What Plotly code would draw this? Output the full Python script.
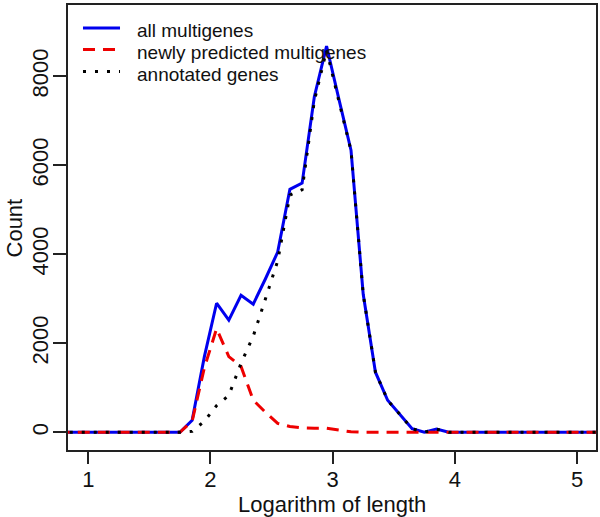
import plotly.graph_objects as go

log_length = [0.75, 0.85, 0.95,
              1.05, 1.15, 1.25, 1.35, 1.45, 1.55, 1.65, 1.75, 1.85, 1.95,
              2.05, 2.15, 2.25, 2.35, 2.45, 2.55, 2.65, 2.75, 2.85, 2.95,
              3.05, 3.15, 3.25, 3.35, 3.45, 3.55, 3.65, 3.75, 3.85, 3.95,
              4.05, 4.15, 4.25, 4.35, 4.45, 4.55, 4.65, 4.75, 4.85, 4.95,
              5.05, 5.15, 5.25]

all_multigenes = [0, 0, 0,
                  0, 0, 0, 0, 0, 0, 0, 0, 270, 1700,
                  2900, 2520, 3080, 2880, 3450, 4050, 5460, 5600, 7540, 8680,
                  7500, 6340, 3100, 1350, 720, 400, 80, 0, 70, 0,
                  0, 0, 0, 0, 0, 0, 0, 0, 0, 0,
                  0, 0, 0]

newly_predicted = [0, 0, 0,
                   0, 0, 0, 0, 0, 0, 0, 0, 250, 1450,
                   2330, 1700, 1480, 720, 450, 200, 130, 100, 90, 90,
                   50, 10, 0, 0, 0, 0, 0, 0, 0, 0,
                   0, 0, 0, 0, 0, 0, 0, 0, 0, 0,
                   0, 0, 0]

annotated = [0, 0, 0,
             0, 0, 0, 0, 0, 0, 0, 0, 20, 250,
             600, 830, 1550, 2160, 3000, 3850, 5330, 5450, 7450, 8590,
             7450, 6330, 3100, 1350, 720, 400, 80, 0, 70, 0,
             0, 0, 0, 0, 0, 0, 0, 0, 0, 0,
             0, 0, 0]

series_names = ["all multigenes", "newly predicted multigenes", "annotated genes"]
series_colors = ["#0000ee", "#ee0000", "#000000"]
series_dashes = ["solid", "12px,8px", "3px,9px"]

x_ticks = [1, 2, 3, 4, 5]
y_ticks = [0, 2000, 4000, 6000, 8000]

FONT = "Liberation Sans, Arial, sans-serif"

fig = go.Figure()
for name, vals, col, dash in zip(series_names,
                                 [all_multigenes, newly_predicted, annotated],
                                 series_colors, series_dashes):
    fig.add_trace(go.Scatter(x=log_length, y=vals, mode="lines", name=name,
                             showlegend=False,
                             line=dict(color=col, width=3, dash=dash)))

# manual legend (R-style, tight spacing)
leg_line_y = [0.9483, 0.900, 0.8506]
leg_text_y = [0.9416, 0.8933, 0.8449]
shapes = []
annotations = []
for name, col, dash, ly, ty in zip(series_names, series_colors, series_dashes,
                                   leg_line_y, leg_text_y):
    shapes.append(dict(type="line", xref="paper", yref="paper",
                       x0=0.0284, x1=0.0985, y0=ly, y1=ly,
                       line=dict(color=col, width=3, dash=dash)))
    annotations.append(dict(text=name, xref="paper", yref="paper",
                            x=0.1269, y=ty, xanchor="left", yanchor="middle",
                            showarrow=False,
                            font=dict(size=19, family=FONT, color="#111111")))

annotations += [
    dict(text="Logarithm of length", xref="paper", yref="paper",
         x=0.5, y=-0.1235, xanchor="center", yanchor="middle",
         showarrow=False, font=dict(size=22, family=FONT)),
    dict(text="Count", xref="paper", yref="paper",
         x=-0.1004, y=0.5, xanchor="center", yanchor="middle",
         textangle=-90, showarrow=False, font=dict(size=22, family=FONT)),
]

fig.update_layout(
    width=600, height=517,
    margin=dict(l=68, r=4, t=5, b=67, autoexpand=False),
    paper_bgcolor="white", plot_bgcolor="white",
    font=dict(family=FONT, size=22, color="#111111"),
    showlegend=False,
    shapes=shapes,
    annotations=annotations,
    xaxis=dict(range=[0.834, 5.155], tickvals=x_ticks,
               ticktext=[str(v) for v in x_ticks],
               showgrid=False, zeroline=False, automargin=False,
               showline=True, mirror=True, linecolor="#222222", linewidth=2,
               ticks="outside", ticklen=12, tickwidth=2, tickcolor="#222222",
               ticklabelstandoff=-3,
               tickfont=dict(size=22, family=FONT)),
    yaxis=dict(range=[-398, 9602], tickvals=y_ticks,
               ticktext=[str(v) for v in y_ticks],
               showgrid=False, zeroline=False, automargin=False,
               showline=True, mirror=True, linecolor="#222222", linewidth=2,
               ticks="outside", ticklen=13, tickwidth=2, tickcolor="#222222",
               tickangle=-90, ticklabelstandoff=-4,
               tickfont=dict(size=22, family=FONT)),
)

fig.write_html("out.html",
               config={"displayModeBar": False},
               post_script="document.body.style.margin='0px';"
                           "document.body.style.padding='0px';")
